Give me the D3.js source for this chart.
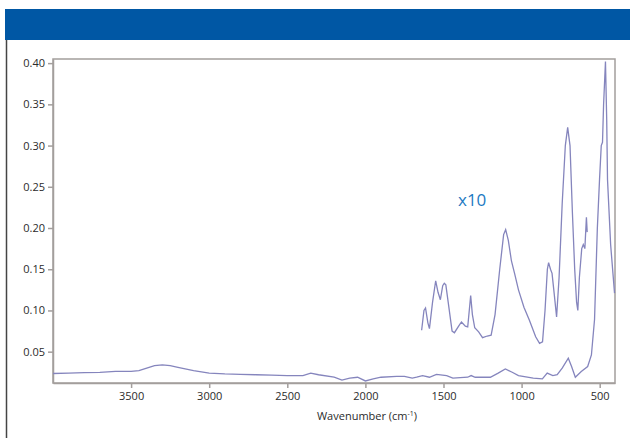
<!DOCTYPE html>
<html>
<head>
<meta charset="utf-8">
<script src="https://cdn.jsdelivr.net/npm/d3@7"></script>
<style>
  body { margin: 0; background: #fff; }
  svg { display: block; }
</style>
</head>
<body>
<svg id="chart" width="630" height="438"></svg>
<script>
// full-scale spectrum (wavenumber, absorbance)
const base_wn = [4000, 3900, 3800, 3700, 3600, 3500, 3450, 3400, 3350, 3300, 3250, 3200, 3100, 3000, 2900, 2800, 2700, 2600, 2500, 2400, 2350, 2300, 2200, 2150, 2100, 2050, 2000, 1950, 1900, 1800, 1750, 1700, 1672, 1634, 1590, 1545, 1480, 1440, 1345, 1323, 1297, 1200, 1150, 1104, 1060, 1020, 925, 867, 836, 800, 772, 740, 701, 680, 656, 618, 577, 553, 533, 515, 501, 490, 482, 475, 463, 455, 450, 430, 405]
const base_abs = [0.0235, 0.024, 0.0245, 0.025, 0.026, 0.026, 0.027, 0.030, 0.033, 0.034, 0.033, 0.031, 0.027, 0.024, 0.023, 0.0225, 0.022, 0.0215, 0.021, 0.021, 0.024, 0.022, 0.019, 0.0155, 0.018, 0.019, 0.0145, 0.017, 0.019, 0.020, 0.020, 0.018, 0.019, 0.021, 0.019, 0.0225, 0.021, 0.018, 0.019, 0.021, 0.019, 0.019, 0.024, 0.029, 0.025, 0.021, 0.018, 0.017, 0.024, 0.021, 0.022, 0.030, 0.042, 0.032, 0.019, 0.026, 0.032, 0.046, 0.089, 0.200, 0.259, 0.300, 0.304, 0.350, 0.402, 0.330, 0.259, 0.180, 0.121]

// x10 expanded region
const zoom_wn = [1640, 1625, 1615, 1600, 1590, 1570, 1550, 1535, 1520, 1505, 1495, 1485, 1470, 1445, 1430, 1400, 1385, 1360, 1345, 1335, 1326, 1315, 1300, 1275, 1250, 1220, 1195, 1170, 1140, 1115, 1102, 1085, 1065, 1045, 1020, 985, 950, 910, 885, 866, 850, 835, 827, 815, 805, 790, 776, 760, 740, 720, 705, 690, 675, 660, 648, 640, 630, 615, 605, 595, 585, 580]
const zoom_abs = [0.076, 0.100, 0.103, 0.085, 0.078, 0.110, 0.136, 0.122, 0.113, 0.130, 0.133, 0.131, 0.110, 0.075, 0.073, 0.082, 0.086, 0.081, 0.080, 0.100, 0.118, 0.095, 0.079, 0.074, 0.067, 0.069, 0.070, 0.095, 0.150, 0.192, 0.198, 0.185, 0.160, 0.145, 0.125, 0.104, 0.088, 0.068, 0.060, 0.062, 0.100, 0.150, 0.158, 0.150, 0.145, 0.118, 0.092, 0.140, 0.230, 0.300, 0.322, 0.300, 0.220, 0.150, 0.110, 0.100, 0.140, 0.175, 0.180, 0.175, 0.213, 0.195]

const x_ticks = [3500, 3000, 2500, 2000, 1500, 1000, 500]
const y_ticks = [0.05, 0.10, 0.15, 0.20, 0.25, 0.30, 0.35, 0.40]

const svg = d3.select("#chart")
const plot_left = 53, plot_right = 615, plot_top = 59, plot_bottom = 383

// header band and left border
svg.append("rect").attr("x", 5).attr("y", 9).attr("width", 625).attr("height", 31).attr("fill", "#0057a4")
svg.append("line").attr("x1", 6.5).attr("x2", 6.5).attr("y1", 40).attr("y2", 438)
  .attr("stroke", "#444").attr("stroke-width", 1.5)

const x = d3.scaleLinear().domain([4000, 402]).range([plot_left, plot_right])
const y = d3.scaleLinear().domain([0.012, 0.405]).range([plot_bottom, plot_top])

const axis_color = "#a39e9c"

// frame
svg.append("rect").attr("x", plot_left).attr("y", plot_top)
  .attr("width", plot_right - plot_left).attr("height", plot_bottom - plot_top)
  .attr("fill", "none").attr("stroke", axis_color).attr("stroke-width", 1.5)

const xAxis = svg.append("g").attr("transform", `translate(0,${plot_bottom})`)
  .call(d3.axisBottom(x).tickValues(x_ticks).tickFormat(d3.format("d")).tickSize(5).tickSizeOuter(0).tickPadding(4))
const yAxis = svg.append("g").attr("transform", `translate(${plot_left},0)`)
  .call(d3.axisLeft(y).tickValues(y_ticks).tickFormat(d3.format(".2f")).tickSize(5).tickSizeOuter(0).tickPadding(3))

for (const g of [xAxis, yAxis]) {
  g.select(".domain").attr("stroke", axis_color).attr("stroke-width", 1.5)
  g.selectAll(".tick line").attr("stroke", axis_color).attr("stroke-width", 1.5)
  g.selectAll(".tick text").attr("fill", "#2b2b2b").attr("font-size", 11)
    .attr("font-family", "'Open Sans', 'Noto Sans', sans-serif")
}

const line = d3.line().x(d => x(d[0])).y(d => y(d[1]))

svg.append("path").datum(d3.zip(base_wn, base_abs))
  .attr("d", line).attr("fill", "none").attr("stroke", "#8585bd").attr("stroke-width", 1.3)
svg.append("path").datum(d3.zip(zoom_wn, zoom_abs))
  .attr("d", line).attr("fill", "none").attr("stroke", "#8585bd").attr("stroke-width", 1.3)

// annotations
svg.append("text").attr("x", 458).attr("y", 206).text("x10")
  .attr("fill", "#1d79c2").attr("font-size", 17)
  .attr("font-family", "'Open Sans', 'Noto Sans', sans-serif")

const label = svg.append("text").attr("x", 367).attr("y", 420).attr("text-anchor", "middle")
  .attr("fill", "#2b2b2b").attr("font-size", 11)
  .attr("font-family", "'Open Sans', 'Noto Sans', sans-serif")
label.append("tspan").text("Wavenumber (cm")
label.append("tspan").text("-1").attr("font-size", 7).attr("dy", -4)
label.append("tspan").text(")").attr("dy", 4)
</script>
</body>
</html>
